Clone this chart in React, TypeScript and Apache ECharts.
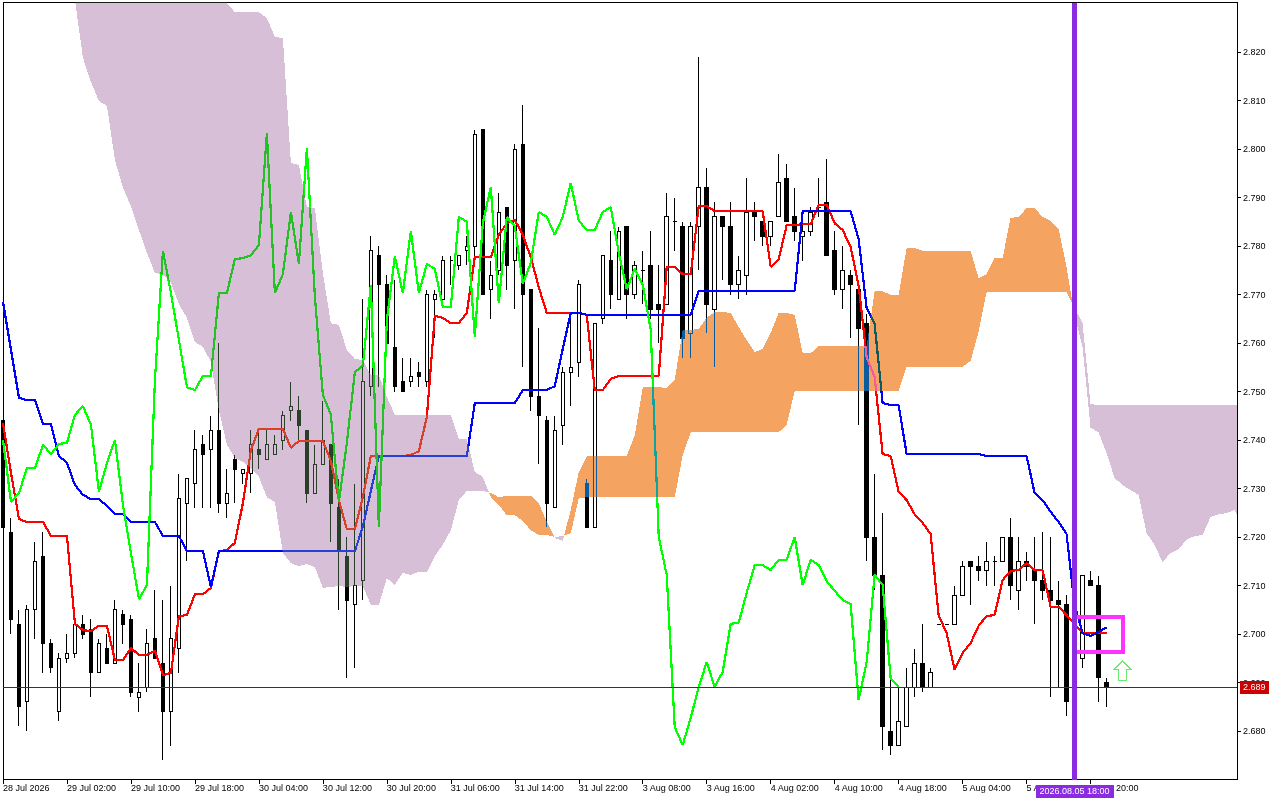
import React, { useEffect, useRef } from "react";
import * as echarts from "echarts";

const tickLabels = ["28 Jul 2026","29 Jul 02:00","29 Jul 10:00","29 Jul 18:00","30 Jul 04:00","30 Jul 12:00","30 Jul 20:00","31 Jul 06:00","31 Jul 14:00","31 Jul 22:00","3 Aug 08:00","3 Aug 16:00","4 Aug 02:00","4 Aug 10:00","4 Aug 18:00","5 Aug 04:00","5 Aug 12:00","5 Aug 20:00"];
const priceTicks = [2.68,2.69,2.70,2.71,2.72,2.73,2.74,2.75,2.76,2.77,2.78,2.79,2.80,2.81,2.82];

const candles: number[][] = [
[2.744,2.722,2.722,2.744],[2.721,2.703,2.700,2.724],[2.702,2.685,2.681,2.705],[2.686,2.705,2.680,2.706],[2.705,2.715,2.699,2.719],
[2.716,2.698,2.692,2.721],[2.698,2.693,2.692,2.699],[2.684,2.695,2.682,2.696],[2.695,2.696,2.694,2.700],[2.696,2.702,2.695,2.705],
[2.702,2.700,2.699,2.704],[2.701,2.692,2.687,2.703],[2.692,2.698,2.692,2.699],[2.697,2.694,2.694,2.700],[2.694,2.705,2.694,2.707],
[2.704,2.702,2.698,2.705],[2.703,2.688,2.687,2.704],[2.687,2.688,2.684,2.694],[2.689,2.698,2.688,2.701],[2.699,2.695,2.695,2.709],
[2.694,2.684,2.674,2.707],[2.684,2.699,2.677,2.710],[2.697,2.728,2.692,2.733],[2.727,2.732,2.715,2.732],[2.731,2.738,2.726,2.742],
[2.739,2.737,2.726,2.741],[2.738,2.742,2.726,2.745],[2.742,2.727,2.725,2.760],[2.727,2.729,2.724,2.734],[2.736,2.734,2.727,2.737],
[2.733,2.734,2.731,2.734],[2.733,2.739,2.729,2.742],[2.738,2.737,2.734,2.742],[2.736,2.739,2.736,2.742],[2.737,2.739,2.737,2.741],
[2.740,2.745,2.738,2.746],[2.746,2.747,2.744,2.752],[2.746,2.743,2.740,2.749],[2.742,2.729,2.727,2.742],[2.729,2.735,2.729,2.739],
[2.735,2.740,2.735,2.748],[2.739,2.727,2.719,2.739],[2.726,2.717,2.705,2.732],[2.716,2.707,2.691,2.720],[2.706,2.710,2.693,2.731],
[2.711,2.752,2.707,2.769],[2.751,2.779,2.749,2.782],[2.778,2.772,2.751,2.780],[2.772,2.760,2.758,2.774],[2.759,2.751,2.750,2.773],
[2.752,2.750,2.750,2.757],[2.752,2.753,2.751,2.757],[2.754,2.753,2.751,2.756],[2.752,2.770,2.751,2.771],[2.769,2.770,2.761,2.771],
[2.769,2.777,2.769,2.778],[2.777,2.777,2.772,2.778],[2.776,2.778,2.775,2.778],[2.779,2.780,2.776,2.782],[2.780,2.803,2.778,2.804],
[2.804,2.770,2.770,2.804],[2.771,2.774,2.765,2.777],[2.775,2.787,2.774,2.791],[2.788,2.776,2.771,2.788],[2.777,2.800,2.767,2.801],
[2.801,2.770,2.755,2.809],[2.771,2.749,2.746,2.771],[2.749,2.745,2.735,2.763],[2.744,2.727,2.722,2.745],[2.726,2.742,2.726,2.745],
[2.743,2.754,2.739,2.755],[2.754,2.755,2.747,2.766],[2.756,2.772,2.753,2.773],[2.731,2.722,2.722,2.732],[2.722,2.764,2.722,2.764],
[2.765,2.778,2.764,2.778],[2.777,2.770,2.767,2.783],[2.769,2.783,2.769,2.784],[2.784,2.770,2.765,2.784],[2.770,2.776,2.769,2.777],
[2.775,2.775,2.768,2.779],[2.776,2.767,2.765,2.783],[2.768,2.767,2.760,2.776],[2.768,2.786,2.768,2.791],[2.785,2.785,2.779,2.790],
[2.784,2.761,2.757,2.785],[2.762,2.784,2.757,2.785],[2.784,2.792,2.775,2.819],[2.792,2.768,2.762,2.796],[2.767,2.786,2.755,2.789],
[2.786,2.784,2.773,2.786],[2.784,2.772,2.770,2.789],[2.772,2.775,2.769,2.778],[2.774,2.787,2.770,2.794],[2.787,2.786,2.781,2.789],
[2.785,2.782,2.780,2.785],[2.782,2.785,2.780,2.785],[2.786,2.793,2.786,2.799],[2.794,2.785,2.785,2.797],[2.786,2.783,2.781,2.792],
[2.782,2.783,2.777,2.787],[2.783,2.787,2.782,2.788],[2.788,2.788,2.786,2.794],[2.789,2.778,2.778,2.798],[2.779,2.771,2.770,2.783],
[2.771,2.775,2.767,2.780],[2.774,2.772,2.761,2.775],[2.771,2.763,2.743,2.771],[2.764,2.720,2.715,2.766],[2.720,2.712,2.709,2.733],
[2.712,2.681,2.676,2.725],[2.680,2.677,2.675,2.691],[2.677,2.682,2.677,2.689],[2.681,2.689,2.681,2.693],[2.689,2.694,2.687,2.697],
[2.694,2.689,2.688,2.702],[2.689,2.692,2.689,2.693],[2.702,2.702,2.702,2.702],[2.702,2.702,2.702,2.702],[2.702,2.708,2.702,2.710],
[2.708,2.714,2.708,2.715],[2.715,2.714,2.706,2.715],[2.714,2.713,2.711,2.716],[2.713,2.715,2.710,2.719],[2.715,2.715,2.710,2.716],
[2.715,2.720,2.715,2.720],[2.720,2.710,2.707,2.724],[2.709,2.715,2.705,2.720],[2.715,2.714,2.711,2.717],[2.713,2.711,2.702,2.720],
[2.711,2.709,2.707,2.721],[2.709,2.707,2.687,2.720],[2.707,2.706,2.689,2.711],[2.706,2.686,2.683,2.708],[2.686,2.700,2.686,2.704],
[2.695,2.712,2.693,2.712],[2.711,2.710,2.710,2.713],[2.710,2.691,2.686,2.712],[2.690,2.689,2.685,2.691],
];

const kijun = [
2.7685,2.7586,2.7487,2.7482,2.7482,2.7433,2.7433,2.7367,2.7353,2.7307,
2.7287,2.7278,2.7278,2.7264,2.7247,2.7247,2.7231,2.7231,2.7231,2.7231,
2.7202,2.7202,2.7202,2.7171,2.7171,2.7171,2.7097,2.7171,2.7171,2.7171,
2.7171,2.7171,2.7171,2.7171,2.7171,2.7171,2.7171,2.7171,2.7171,2.7171,
2.7171,2.7171,2.7171,2.7171,2.7171,2.7221,2.7295,2.7367,2.7367,2.7367,
2.7367,2.7367,2.7367,2.7367,2.7367,2.7367,2.7367,2.7367,2.7367,2.7476,
2.7476,2.7476,2.7476,2.7476,2.7476,2.7503,2.7503,2.7503,2.7503,2.7511,
2.7588,2.7662,2.7662,2.7658,2.7658,2.7658,2.7658,2.7658,2.7658,2.7658,
2.7658,2.7658,2.7658,2.7658,2.7658,2.7658,2.7658,2.7707,2.7707,2.7707,
2.7707,2.7707,2.7707,2.7707,2.7707,2.7707,2.7707,2.7707,2.7707,2.7707,
2.7872,2.7872,2.7872,2.7872,2.7872,2.7872,2.7872,2.7814,2.7672,2.7639,
2.7476,2.7472,2.7472,2.7371,2.7371,2.7371,2.7371,2.7371,2.7371,2.7371,
2.7371,2.7371,2.7371,2.7367,2.7367,2.7367,2.7367,2.7367,2.7367,2.7291,
2.7276,2.7252,2.7231,2.7206,2.7060,2.7002,2.6996,2.7004,2.7014,
];

const tenkan = [
2.7435,2.7332,2.7237,2.7231,2.7231,2.7231,2.7202,2.7202,2.7202,2.7021,
2.7008,2.7006,2.7017,2.7017,2.6946,2.6946,2.6971,2.6957,2.6957,2.6965,
2.6915,2.6920,2.7037,2.7039,2.7082,2.7082,2.7095,2.7171,2.7173,2.7188,
2.7270,2.7379,2.7423,2.7423,2.7423,2.7423,2.7384,2.7398,2.7398,2.7398,
2.7398,2.7357,2.7276,2.7216,2.7216,2.7282,2.7367,2.7367,2.7367,2.7367,
2.7367,2.7369,2.7377,2.7447,2.7656,2.7652,2.7641,2.7641,2.7662,2.7777,
2.7777,2.7777,2.7823,2.7847,2.7854,2.7823,2.7777,2.7715,2.7662,2.7662,
2.7662,2.7662,2.7662,2.7658,2.7503,2.7503,2.7526,2.7532,2.7532,2.7532,
2.7532,2.7532,2.7532,2.7757,2.7757,2.7742,2.7742,2.7882,2.7882,2.7872,
2.7872,2.7872,2.7872,2.7872,2.7872,2.7872,2.7757,2.7773,2.7843,2.7843,
2.7845,2.7845,2.7885,2.7885,2.7847,2.7833,2.7798,2.7718,2.7571,2.7530,
2.7371,2.7367,2.7293,2.7276,2.7247,2.7229,2.7206,2.7039,2.7002,2.6926,
2.6961,2.6981,2.7017,2.7037,2.7039,2.7111,2.7130,2.7132,2.7146,2.7132,
2.7132,2.7056,2.7056,2.7039,2.7021,2.7002,2.7002,2.7002,2.7002,
];

const chikou = [
2.7400,2.7272,2.7291,2.7342,2.7342,2.7390,2.7371,2.7392,2.7394,2.7452,
2.7470,2.7431,2.7293,2.7353,2.7400,2.7266,2.7167,2.7072,2.7101,2.7524,
2.7790,2.7703,2.7606,2.7509,2.7503,2.7532,2.7532,2.7703,2.7703,2.7773,
2.7775,2.7781,2.7802,2.8033,2.7703,2.7742,2.7870,2.7763,2.8002,2.7695,
2.7493,2.7452,2.7272,2.7394,2.7540,2.7553,2.7720,2.7221,2.7647,2.7779,
2.7703,2.7831,2.7703,2.7763,2.7753,2.7674,2.7674,2.7860,2.7850,2.7612,
2.7847,2.7922,2.7682,2.7860,2.7841,2.7722,2.7765,2.7870,2.7860,2.7823,
2.7860,2.7930,2.7852,2.7833,2.7833,2.7870,2.7880,2.7786,2.7711,2.7753,
2.7720,2.7627,2.7200,2.7122,2.6808,2.6771,2.6827,2.6891,2.6942,2.6891,
2.6922,2.7021,2.7023,2.7085,2.7142,2.7142,2.7132,2.7153,2.7153,2.7200,
2.7101,2.7153,2.7142,2.7109,2.7089,2.7070,2.7062,2.6864,2.6942,2.7122,
2.7101,2.6909,2.6891,
];

const cloudStart = 9;
const spanA = [
2.8307,2.8188,2.8138,2.8099,2.8089,2.7977,2.7920,2.7882,2.7833,2.7786,2.7744,
2.7742,2.7724,2.7680,2.7652,2.7602,2.7592,2.7561,2.7462,2.7390,
2.7363,2.7355,2.7342,2.7324,2.7282,2.7272,2.7167,2.7146,2.7140,2.7144,
2.7138,2.7095,2.7097,2.7099,2.7097,2.7099,2.7099,2.7060,2.7060,2.7115,
2.7101,2.7126,2.7122,2.7128,2.7128,2.7161,2.7184,2.7214,2.7276,2.7295,
2.7295,2.7295,
2.7291,2.7282,2.7285,2.7285,2.7285,2.7285,2.7270,2.7231,2.7198,2.7192,
2.7256,2.7334,2.7367,2.7367,2.7367,2.7367,2.7367,2.7367,2.7410,2.7509,
2.7509,2.7509,2.7507,2.7524,2.7627,2.7627,2.7629,2.7652,2.7664,2.7664,
2.7662,2.7633,2.7606,2.7581,2.7588,2.7621,2.7662,2.7662,2.7658,2.7579,
2.7579,2.7594,2.7594,2.7594,2.7594,2.7594,2.7594,2.7594,2.7707,2.7707,
2.7699,2.7699,2.7796,2.7796,2.7790,2.7790,2.7790,2.7790,2.7790,2.7790,
2.7790,2.7734,2.7742,2.7775,2.7775,2.7858,2.7860,2.7878,2.7878,2.7860,
2.7852,2.7835,2.7757,2.7658,2.7592,2.7425,2.7416,2.7373,2.7322,2.7307,
2.7297,2.7287,2.7208,2.7184,2.7148,2.7167,2.7175,2.7194,2.7202,2.7204,
2.7241,2.7247,2.7249,2.7256,2.7225,
];
const spanB = [
2.835,2.835,2.835,2.835,2.835,2.835,2.835,2.835,2.835,2.835,
2.835,2.835,2.835,2.835,2.835,2.835,2.835,2.835,2.835,
2.8301,2.8282,2.8282,2.8282,2.8282,2.8270,2.8231,2.8229,2.7971,2.7967,2.7880,
2.7878,2.7744,2.7641,2.7637,2.7586,2.7567,2.7565,2.7534,2.7534,2.7489,
2.7452,2.7452,2.7452,2.7452,2.7452,2.7452,2.7452,2.7452,2.7402,2.7402,
2.7334,2.7324,
2.7282,2.7266,2.7245,2.7245,2.7233,2.7214,2.7204,2.7204,2.7200,2.7202,
2.7208,2.7280,2.7282,2.7282,2.7282,2.7282,2.7282,2.7282,2.7282,2.7282,
2.7282,2.7282,2.7282,2.7282,2.7369,2.7416,2.7416,2.7416,2.7416,2.7416,
2.7416,2.7416,2.7416,2.7416,2.7416,2.7416,2.7416,2.7431,2.7501,2.7501,
2.7501,2.7501,2.7501,2.7501,2.7501,2.7501,2.7501,2.7501,2.7501,2.7501,
2.7501,2.7501,2.7551,2.7551,2.7551,2.7551,2.7551,2.7551,2.7551,2.7551,
2.7563,2.7623,2.7705,2.7705,2.7705,2.7705,2.7705,2.7705,2.7705,2.7705,
2.7705,2.7705,2.7705,2.7672,2.7641,2.7474,2.7472,2.7472,2.7472,2.7472,
2.7472,2.7472,2.7472,2.7472,2.7472,2.7472,2.7472,2.7472,2.7472,2.7472,
2.7472,2.7472,2.7472,2.7472,2.7472,
];

const lastPrice = 2.689;
const markerBar = 134;
const markerLabel = "2026.08.05 18:00";
const boxBars = [134, 140];
const boxPrices = [2.7035, 2.6963];
const arrowBar = 140;
const arrowPrice = 2.6924;

const PRICE_MIN = 2.67;
const PRICE_MAX = 2.83021;
const BAR_MAX = 154.3125;
const BARS_PER_TICK = 8;
const THISTLE_XOR = "#274027";
const SANDY_XOR = "#0b5b9f";
const BLEND_TARGETS = ["rgb(39, 64, 39)", "rgb(11, 91, 159)"];
const FONT = "'Liberation Sans', Arial, sans-serif";

function cloudPolygons() {
  const out: { fill: string; pts: number[][] }[] = [];
  let up: number[][] = [];
  let lo: number[][] = [];
  const n = Math.min(spanA.length, spanB.length);
  const flush = (bull: boolean) => {
    out.push({ fill: bull ? SANDY_XOR : THISTLE_XOR, pts: up.concat(lo.slice().reverse()) });
  };
  for (let k = 0; k < n; k++) {
    const x = cloudStart + k;
    const a = spanA[k];
    const b = spanB[k];
    const bull = a >= b;
    up.push([x, Math.max(a, b)]);
    lo.push([x, Math.min(a, b)]);
    if (k + 1 < n) {
      const a2 = spanA[k + 1];
      const b2 = spanB[k + 1];
      if (a2 >= b2 !== bull) {
        const d1 = a - b;
        const d2 = a2 - b2;
        const t = d1 / (d1 - d2);
        const cross = [x + t, a + t * (a2 - a)];
        up.push(cross);
        flush(bull);
        up = [cross];
        lo = [];
      }
    } else {
      flush(bull);
    }
  }
  return out;
}

const toXY = (vals: number[]) => vals.map((v, i) => [i, v]);

export default function App() {
  const ref = useRef<HTMLDivElement | null>(null);
  useEffect(() => {
    document.body.style.margin = "0";
    document.body.style.background = "#fff";
    const host = ref.current as HTMLDivElement;
    const chart = echarts.init(host, undefined, { renderer: "svg" });
    const polys = cloudPolygons();
    const line = (name: string, vals: number[], color: string, z: number) => ({
      name,
      type: "line",
      data: toXY(vals),
      showSymbol: false,
      symbol: "none",
      silent: true,
      z,
      lineStyle: { color, width: 2.2 },
    });
    // The cloud sits inside a clipped group, which isolates blending, so the mode goes on that group.
    const applyBlend = () => {
      host.querySelectorAll("path").forEach((p) => {
        const fill = getComputedStyle(p).fill;
        if (BLEND_TARGETS.indexOf(fill) >= 0) {
          const target = (p.closest("[clip-path]") || p) as unknown as HTMLElement;
          target.style.setProperty("mix-blend-mode", "difference");
        }
      });
    };
    chart.on("finished", applyBlend);
    chart.setOption({
      animation: false,
      backgroundColor: "#ffffff",
      textStyle: { fontFamily: FONT },
      grid: { show: true, left: 2.5, top: 2.5, width: 1234.5, height: 777, borderColor: "#000", borderWidth: 1, backgroundColor: "transparent" },
      xAxis: {
        type: "value",
        min: 0,
        max: BAR_MAX,
        splitLine: { show: false },
        axisLine: { show: true, onZero: false, lineStyle: { color: "#000" } },
        axisTick: { show: true, length: 4, lineStyle: { color: "#000" }, customValues: tickLabels.map((_, i) => i * BARS_PER_TICK) },
        axisLabel: {
          color: "#000",
          fontSize: 9,
          fontFamily: FONT,
          align: "left",
          margin: 4,
          customValues: tickLabels.map((_, i) => i * BARS_PER_TICK),
          formatter: (v: number) => tickLabels[Math.round(v / BARS_PER_TICK)] ?? "",
        },
      },
      yAxis: {
        type: "value",
        position: "right",
        min: PRICE_MIN,
        max: PRICE_MAX,
        scale: true,
        splitLine: { show: false },
        axisLine: { show: true, onZero: false, lineStyle: { color: "#000" } },
        axisTick: { show: true, length: 4, lineStyle: { color: "#000" }, customValues: priceTicks },
        axisLabel: {
          color: "#000",
          fontSize: 9,
          fontFamily: FONT,
          margin: 6,
          customValues: priceTicks,
          formatter: (v: number) => v.toFixed(3),
        },
      },
      series: [
        {
          name: "Price",
          type: "candlestick",
          data: candles.map((c, i) => [i, c[0], c[1], c[2], c[3]]),
          barWidth: 4,
          silent: true,
          z: 2,
          itemStyle: { color: "#ffffff", color0: "#000000", borderColor: "#000000", borderColor0: "#000000", borderWidth: 1 },
        },
        line("Tenkan", tenkan, "#ff0000", 3),
        line("Kijun", kijun, "#0000ff", 3),
        line("Chikou", chikou, "#00ff00", 3),
        {
          name: "Cloud",
          type: "custom",
          coordinateSystem: "cartesian2d",
          clip: true,
          silent: true,
          z: 4,
          data: [[cloudStart, spanA[0]]],
          encode: { x: 0, y: 1 },
          renderItem: (_: unknown, api: any) => ({
            type: "group",
            children: polys.map((p) => ({
              type: "polygon",
              shape: { points: p.pts.map((q) => api.coord(q)) },
              style: { fill: p.fill, stroke: "none" },
            })),
          }),
        },
        {
          name: "Annotations",
          type: "line",
          data: [[markerBar, lastPrice]],
          symbol: "none",
          silent: true,
          z: 6,
          lineStyle: { width: 0 },
          markArea: {
            silent: true,
            z: 8,
            itemStyle: { color: "rgba(0,0,0,0)", borderColor: "#ff33ff", borderWidth: 4 },
            data: [[{ coord: [boxBars[0], boxPrices[0]] }, { coord: [boxBars[1], boxPrices[1]] }]],
          },
          markLine: {
            silent: true,
            z: 9,
            precision: 4,
            symbol: ["none", "none"],
            animation: false,
            data: [
              {
                yAxis: lastPrice,
                lineStyle: { color: "#b00000", width: 1, type: "solid" },
                label: {
                  show: true,
                  position: "end",
                  distance: 3,
                  formatter: lastPrice.toFixed(3),
                  color: "#ffffff",
                  fontSize: 9,
                  fontFamily: FONT,
                  backgroundColor: "#cc0000",
                  padding: [2, 3, 2, 3],
                },
              },
              {
                xAxis: markerBar,
                lineStyle: { color: "#8a2be2", width: 5, type: "solid" },
                label: {
                  show: true,
                  position: "start",
                  distance: 5,
                  formatter: markerLabel,
                  color: "#ffffff",
                  fontSize: 9,
                  fontFamily: FONT,
                  backgroundColor: "#8a2be2",
                  padding: [2, 4, 2, 4],
                },
              },
            ],
          },
          markPoint: {
            silent: true,
            z: 9,
            data: [
              {
                coord: [arrowBar, arrowPrice],
                symbol: "path://M8 0 L16 8 L12 8 L12 19 L4 19 L4 8 L0 8 Z",
                symbolSize: [16, 19],
                itemStyle: { color: "#ffffff", borderColor: "#6fe86f", borderWidth: 1.5 },
                label: { show: false },
              },
            ],
          },
        },
      ],
    });
    applyBlend();
    const timer = window.setTimeout(applyBlend, 50);
    return () => {
      window.clearTimeout(timer);
      chart.dispose();
    };
  }, []);
  return (
    <>
      <style>{`svg path { shape-rendering: crispEdges; }`}</style>
      <div ref={ref} style={{ position: "absolute", left: 0, top: 0, width: 1280, height: 800 }} />
    </>
  );
}
